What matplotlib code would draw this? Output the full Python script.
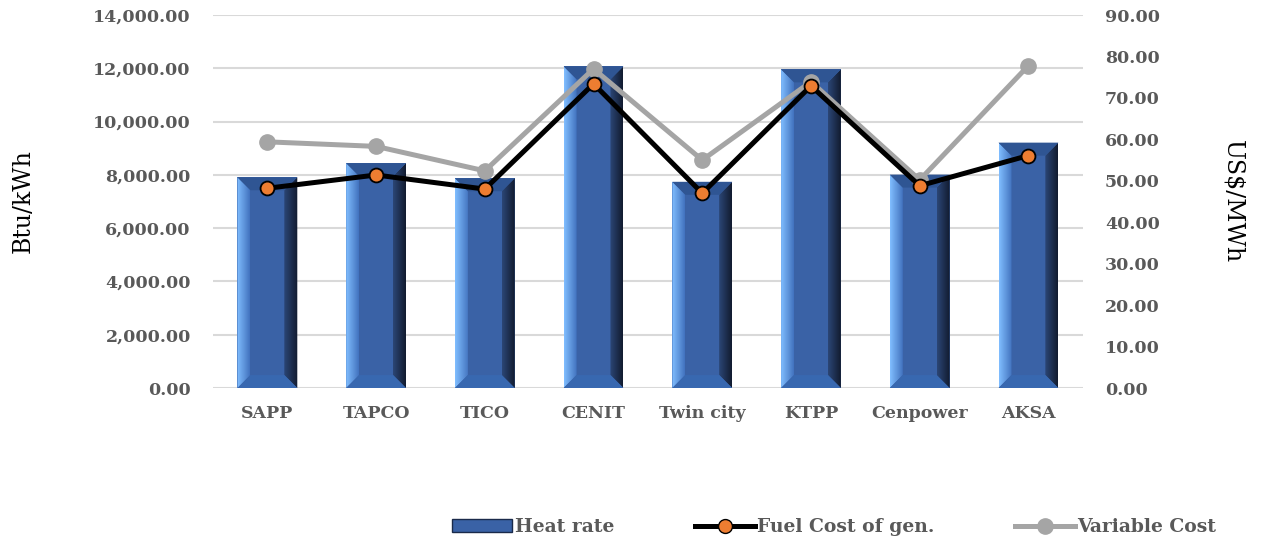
import numpy as np
import matplotlib.pyplot as plt
from matplotlib.patches import Polygon, Rectangle
from matplotlib.lines import Line2D
from matplotlib.ticker import FuncFormatter, MultipleLocator
from matplotlib.colors import to_rgb

plants = ["SAPP", "TAPCO", "TICO", "CENIT", "Twin city", "KTPP", "Cenpower", "AKSA"]
heat_rate = [7910, 8440, 7875, 12075, 7740, 11960, 8010, 9210]
fuel_cost = [48.2, 51.4, 48.0, 73.4, 47.0, 72.9, 48.8, 56.1]
variable_cost = [59.4, 58.3, 52.4, 77.0, 55.0, 73.9, 50.2, 77.8]

left_max, right_max = 14000, 90
bar_w = 0.55
bevel_px = 13
grey_txt = "#595959"
serif = "DejaVu Serif"

fig = plt.figure(figsize=(12.62, 5.42), dpi=100)
ax = fig.add_axes([0.1688, 0.2841, 0.6892, 0.6882])
ax2 = ax.twinx()

x = np.arange(len(plants))
ax.set_xlim(-0.5, len(plants) - 0.5)
ax.set_ylim(0, left_max)
ax2.set_ylim(0, right_max)

# bevel size in data units
ax_w_px = 0.6892 * 1262
ax_h_px = 0.6882 * 542
bx = bevel_px * (len(plants)) / ax_w_px
by = bevel_px * left_max / ax_h_px


def grad(c1, c2, n=50):
    a, b = np.array(to_rgb(c1)), np.array(to_rgb(c2))
    t = np.linspace(0, 1, n)[None, :, None]
    return a + (b - a) * t


bars = ax.bar(x, heat_rate, width=bar_w, color="#3A62A6", zorder=2)
for b in bars:
    x0, y0 = b.get_x(), b.get_y()
    x1, y1 = x0 + b.get_width(), y0 + b.get_height()
    # left (light) edge
    poly = Polygon([(x0, y0), (x0 + bx, y0 + by), (x0 + bx, y1 - by), (x0, y1)],
                   closed=True, facecolor="none", edgecolor="none")
    ax.add_patch(poly)
    im = ax.imshow(grad("#80BEFF", "#4272BE"), extent=[x0, x0 + bx, y0, y1],
                   aspect="auto", zorder=3, origin="lower")
    im.set_clip_path(poly)
    # right (dark) edge
    poly = Polygon([(x1, y0), (x1 - bx, y0 + by), (x1 - bx, y1 - by), (x1, y1)],
                   closed=True, facecolor="none", edgecolor="none")
    ax.add_patch(poly)
    im = ax.imshow(grad("#2B4676", "#121B2F"), extent=[x1 - bx, x1, y0, y1],
                   aspect="auto", zorder=3, origin="lower")
    im.set_clip_path(poly)
    # top and bottom bevels
    ax.add_patch(Polygon([(x0, y1), (x1, y1), (x1 - bx, y1 - by), (x0 + bx, y1 - by)],
                         closed=True, facecolor="#2F5593", edgecolor="none", zorder=3))
    ax.add_patch(Polygon([(x0, y0), (x1, y0), (x1 - bx, y0 + by), (x0 + bx, y0 + by)],
                         closed=True, facecolor="#3868B0", edgecolor="none", zorder=3))

ax.set_xlim(-0.5, len(plants) - 0.5)
ax.set_ylim(0, left_max)

ax2.plot(x, variable_cost, color="#A5A5A5", lw=3.6, marker="o", ms=11,
         mfc="#A5A5A5", mec="#A5A5A5", zorder=4)
ax2.plot(x, fuel_cost, color="black", lw=3.6, marker="o", ms=10,
         mfc="#ED7D31", mec="black", mew=1.3, zorder=5)

ax.yaxis.set_major_locator(MultipleLocator(2000))
ax2.yaxis.set_major_locator(MultipleLocator(10))
ax.yaxis.set_major_formatter(FuncFormatter(lambda v, p: f"{v:,.2f}"))
ax2.yaxis.set_major_formatter(FuncFormatter(lambda v, p: f"{v:,.2f}"))
ax.grid(axis="y", color="#D9D9D9", lw=1.5, zorder=0)
ax.set_axisbelow(True)

ax.set_xticks(x)
ax.set_xticklabels(plants)
for a in (ax, ax2):
    for s in a.spines.values():
        s.set_visible(False)
    a.tick_params(length=0, labelsize=12.5, labelcolor=grey_txt)
    for lab in a.get_xticklabels() + a.get_yticklabels():
        lab.set_fontfamily(serif)
        lab.set_fontweight("bold")
ax.tick_params(axis="x", pad=12)
ax.tick_params(axis="y", pad=16)
ax2.tick_params(axis="y", pad=16)

ax.set_ylabel("Btu/kWh", fontsize=17, family=serif, color="black", labelpad=42)
ax2.set_ylabel("US$/MWh", fontsize=17, family=serif, color="black",
               rotation=270, labelpad=61)

handles = [
    Rectangle((0, 0), 1, 1, facecolor="#3A62A6", edgecolor="#1A2A4A"),
    Line2D([], [], color="black", lw=3.6, marker="o", ms=10, mfc="#ED7D31", mec="black"),
    Line2D([], [], color="#A5A5A5", lw=3.6, marker="o", ms=11, mfc="#A5A5A5", mec="#A5A5A5"),
]
fig.legend(handles, ["Heat rate", "Fuel Cost of gen.", "Variable Cost"],
           loc="center", bbox_to_anchor=(0.661, 0.027), ncol=3, frameon=False,
           handlelength=3.2, handletextpad=0.12, columnspacing=4.3,
           prop={"family": serif, "weight": "bold", "size": 13.5},
           labelcolor=grey_txt)

fig.savefig("out.png", dpi=100)
